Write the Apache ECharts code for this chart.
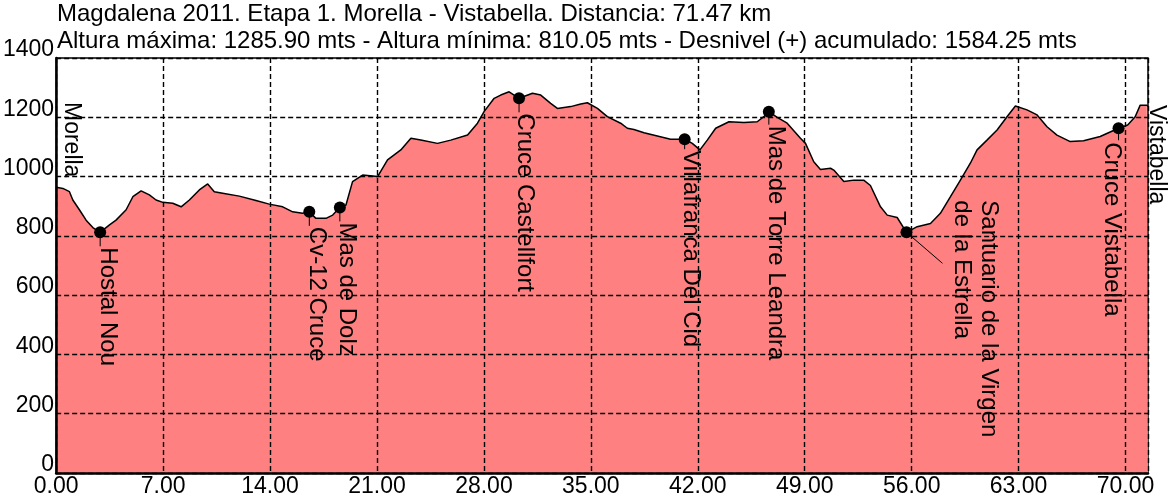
<!DOCTYPE html>
<html>
<head>
<meta charset="utf-8">
<script src="https://cdn.jsdelivr.net/npm/echarts@6/dist/echarts.min.js"></script>
<style>
html,body{margin:0;padding:0;background:#fff;}
#chart{width:1172px;height:501px;}
</style>
</head>
<body>
<div id="chart"></div>
<script>
// ---- Data ----
const titleLine1 = 'Magdalena 2011. Etapa 1. Morella - Vistabella. Distancia: 71.47 km';
const titleLine2 = 'Altura máxima: 1285.90 mts - Altura mínima: 810.05 mts - Desnivel (+) acumulado: 1584.25 mts';

const distanceKm = [0, 0.44, 0.87, 1.09, 1.52, 1.96, 2.40, 2.88, 3.49, 3.92, 4.58, 5.02, 5.56, 6.10, 6.54, 6.98, 7.63, 8.18, 8.72, 9.37, 9.92, 10.35, 10.90, 11.99, 13.08, 13.95, 14.83, 15.48, 16.13, 16.57, 17.00, 17.66, 18.10, 18.57, 18.97, 19.40, 20.06, 21.04, 21.69, 22.56, 23.22, 23.87, 24.96, 25.83, 26.93, 27.58, 28.01, 28.67, 29.10, 29.65, 30.30, 31.18, 31.72, 32.37, 32.81, 33.68, 34.34, 34.77, 35.43, 36.08, 36.95, 37.39, 37.82, 38.48, 39.35, 40.22, 41.14, 41.64, 42.14, 42.62, 43.17, 44.04, 45.02, 45.89, 46.32, 46.65, 47.20, 47.85, 48.72, 49.05, 49.59, 50.03, 50.69, 50.90, 51.56, 52.21, 52.86, 53.30, 53.96, 54.40, 55.05, 55.66, 56.36, 57.23, 57.88, 58.54, 59.19, 59.84, 60.28, 60.93, 61.59, 62.24, 62.79, 63.55, 64.21, 64.86, 65.51, 66.38, 67.25, 68.34, 69.54, 70.14, 70.63, 70.96, 71.39, 71.47];
const elevationM = [964, 960, 949, 921, 888, 853, 828, 812, 837, 853, 888, 932, 952, 938, 921, 913, 910, 898, 921, 955, 975, 949, 944, 934, 919, 907, 898, 881, 876, 881, 859, 859, 870, 896, 904, 983, 1005, 1000, 1056, 1090, 1129, 1123, 1112, 1123, 1140, 1180, 1219, 1264, 1275, 1286, 1264, 1281, 1275, 1247, 1230, 1236, 1245, 1249, 1230, 1202, 1180, 1163, 1159, 1148, 1137, 1126, 1126, 1112, 1090, 1123, 1163, 1185, 1182, 1185, 1202, 1219, 1200, 1180, 1129, 1112, 1050, 1024, 1028, 1022, 983, 988, 988, 970, 898, 870, 862, 812, 831, 842, 876, 932, 988, 1045, 1090, 1123, 1157, 1202, 1238, 1225, 1208, 1168, 1140, 1118, 1121, 1135, 1163, 1174, 1202, 1241, 1241, 1236];

const waypointNames = ['Hostal Nou', 'Cv-12 Cruce', 'Mas de Dolz', 'Cruce Castellfort', 'Villafranca Del Cid', 'Mas de Torre Leandra', 'Santuario de la Virgen\nde la Estrella', 'Cruce Vistabella'];
const waypointKm = [2.88, 16.57, 18.57, 30.30, 41.14, 46.65, 55.66, 69.54];
const waypointElev = [812, 881, 896, 1264, 1126, 1219, 812, 1163];

const endNames = ['Morella', 'Vistabella'];
const endKm = [0, 71.47];

const xTicks = [0, 7, 14, 21, 28, 35, 42, 49, 56, 63, 70];
const yTicks = [0, 200, 400, 600, 800, 1000, 1200, 1400];

// ---- Layout (pixel offsets of labels relative to their points) ----
const wpLayout = [
  {lx: 0, ly: 14, tx: 7, ty: 15},
  {lx: 0, ly: 14, tx: 7, ty: 15},
  {lx: 0, ly: 14, tx: 7, ty: 15},
  {lx: 0, ly: 14, tx: 6, ty: 15},
  {lx: 0, ly: 10, tx: 6, ty: 11},
  {lx: 0, ly: 13, tx: 7, ty: 14},
  {lx: 36, ly: 31, tx: 69, ty: -32},
  {lx: 0, ly: 12, tx: -7, ty: 14}
];
const endLayout = [{tx: 15, top: 44}, {tx: 8, top: 47}];

const FONT = '"Liberation Sans", Arial, sans-serif';
const chart = echarts.init(document.getElementById('chart'));

const profile = distanceKm.map((d, i) => [d, elevationM[i]]);
const waypoints = waypointKm.map((d, i) => [d, waypointElev[i]]);
const ends = endKm.map((d) => [d, 0]);

function renderWaypoint(params, api) {
  const i = params.dataIndex;
  const p = api.coord([api.value(0), api.value(1)]);
  const L = wpLayout[i];
  return {
    type: 'group',
    children: [
      {type: 'line', shape: {x1: p[0], y1: p[1], x2: p[0] + L.lx, y2: p[1] + L.ly}, style: {stroke: '#000', lineWidth: 1}},
      {type: 'circle', shape: {cx: p[0], cy: p[1], r: 6}, style: {fill: '#000'}},
      {type: 'text', x: p[0] + L.tx, y: p[1] + L.ty, rotation: -Math.PI / 2,
        style: {text: waypointNames[i], fontSize: 24, fontFamily: FONT, fill: '#000', align: 'left', verticalAlign: 'middle', lineHeight: 27}}
    ]
  };
}

function renderEnd(params, api) {
  const i = params.dataIndex;
  const p = api.coord([api.value(0), api.value(1)]);
  const top = params.coordSys.y;
  const L = endLayout[i];
  return {
    type: 'text', x: p[0] + L.tx, y: top + L.top, rotation: -Math.PI / 2,
    style: {text: endNames[i], fontSize: 23, fontFamily: FONT, fill: '#000', align: 'left', verticalAlign: 'middle'}
  };
}

const gridLine = {show: true, lineStyle: {color: '#000', type: [5, 3], width: 1.4}};

chart.setOption({
  animation: false,
  backgroundColor: '#fff',
  textStyle: {fontFamily: FONT},
  title: [
    {text: titleLine1, left: 57, top: 2, padding: 0, textStyle: {fontSize: 24, fontWeight: 'normal', color: '#000', fontFamily: FONT}},
    {text: titleLine2, left: 57, top: 29, padding: 0, textStyle: {fontSize: 24, fontWeight: 'normal', color: '#000', fontFamily: FONT}}
  ],
  grid: {left: 55, right: 24, top: 58, bottom: 28, show: true, borderColor: '#000', borderWidth: 1.5, containLabel: false},
  xAxis: {
    type: 'value', min: 0, max: 71.47, interval: 7, z: 3,
    axisLine: {show: true, lineStyle: {color: '#000', width: 2.5}},
    axisTick: {show: false},
    axisLabel: {
      color: '#000', fontSize: 23, fontFamily: FONT, margin: 2, showMaxLabel: false,
      formatter: (v) => (xTicks.indexOf(v) >= 0 ? v.toFixed(2) : '')
    },
    splitLine: gridLine
  },
  yAxis: {
    type: 'value', min: 0, max: 1400, interval: 200, z: 3,
    axisLine: {show: true, lineStyle: {color: '#000', width: 2.5}},
    axisTick: {show: false},
    axisLabel: {
      color: '#000', fontSize: 23, fontFamily: FONT, margin: 2, verticalAlign: 'bottom', lineHeight: 16,
      formatter: (v) => (yTicks.indexOf(v) >= 0 ? String(v) : '')
    },
    splitLine: gridLine
  },
  series: [
    {
      type: 'line', data: profile, symbol: 'none', z: 2,
      lineStyle: {color: '#000', width: 1.5},
      areaStyle: {color: '#FF8080', opacity: 1}
    },
    {type: 'custom', data: waypoints, renderItem: renderWaypoint, z: 5, clip: false},
    {type: 'custom', data: ends, renderItem: renderEnd, z: 5, clip: false}
  ]
});
</script>
</body>
</html>
